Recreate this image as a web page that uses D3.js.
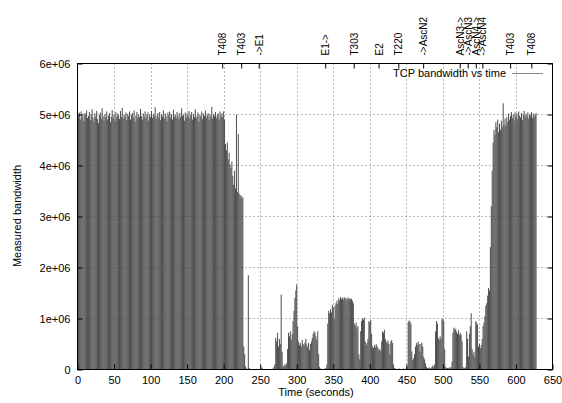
<!DOCTYPE html>
<html>
<head>
<meta charset="utf-8">
<script src="https://cdn.jsdelivr.net/npm/d3@7"></script>
<style>
  body { margin: 0; background: #fff; }
  svg text { font-family: "Liberation Sans", Arial, Helvetica, sans-serif; fill: #000; }
</style>
</head>
<body>
<svg id="chart" width="562" height="403"></svg>
<script>
// Measured TCP bandwidth (units of 1e6), one sample every sampleStep seconds.
// Each run starts at the time given in runStarts.
const sampleStep = 1.25;

const steadyValues = [
  5.55,4.98,5.04,4.90,5.06,4.95,5.01,4.87,5.03,4.99,
  5.08,4.93,4.97,5.05,4.89,5.00,5.10,4.94,4.86,5.02,
  4.96,5.07,4.91,4.83,4.99,5.04,4.92,5.12,4.97,4.88,
  5.01,4.95,5.06,4.90,4.98,5.03,4.85,4.96,5.09,4.93,
  5.00,4.87,5.05,4.94,5.02,4.98,4.91,5.07,4.95,5.13,
  4.92,5.00,4.96,5.04,4.89,5.01,4.97,5.06,4.90,4.99,
  5.03,4.94,5.08,4.86,4.98,5.05,4.93,5.00,4.95,5.11,
  4.97,4.90,5.02,4.96,5.06,4.92,4.99,5.04,4.88,5.00,
  4.95,5.07,4.93,5.01,4.97,5.14,4.91,4.98,5.03,4.94,
  5.05,4.89,5.00,4.96,5.08,4.92,5.02,4.97,4.87,5.04,
  4.99,5.06,4.94,5.01,4.90,5.09,4.96,5.00,4.93,5.05,
  4.98,4.91,5.03,4.95,5.12,4.97,5.00,4.88,5.04,4.94,
  5.02,4.96,5.07,4.92,4.99,5.05,4.90,5.01,4.95,5.10,
  4.93,4.98,5.04,4.86,5.00,4.96,5.06,4.91,5.02,4.97,
  5.08,4.94,4.99,5.03,4.89,5.00,4.95,5.15,4.92,5.01,
  4.97,5.05,4.93,4.99,5.02,4.90,5.06,4.96
];

const fadeValues = [
  5.02,4.95,5.06,4.90,4.42,4.30,4.45,4.12,4.25,4.02,
  3.95,4.08,3.80,3.62,3.90,3.55,5.00,3.48,4.62,3.45,
  3.40,3.42,3.35,3.38
];

const outageValues = [
  0.45,0.30,0.06,0.02,0.01,1.85,0.03,0.01,0,0,
  0.01,0,0,0,0.01,0,0,0,0,0.02,
  0.04,0.01,0,0,0,0,0,0.01,0,0,
  0,0,0.02,0.05
];

const burstValuesA = [
  0.10,0.62,0.55,0.72,0.45,0.60,0.50,1.47,0.35,0.08,
  0.05,0.10,0.08,0.12,0.40,0.72,0.65,0.75,0.58,0.70,
  0.95,1.15,1.40,1.55,1.67,0.85,0.55,0.48,0.52,0.45,
  0.58,0.50,0.47,0.53,0.60,0.49,0.44,0.52,0.38,0.50,
  0.55,0.62,0.70,0.75,0.72,0.65,0.58,0.75,0.30,0.05,
  0.02,0.01,0,0.01,0,0.02,0.03,0.10
];

const burstValuesB = [
  0.90,1.15,1.10,1.18,1.12,1.27,1.22,0.98,1.25,1.30,
  1.35,1.28,1.40,1.36,1.42,1.38,1.41,1.37,1.42,1.39,
  1.40,1.36,1.41,1.38,1.40,1.37,1.39,1.35,1.30,0.90,
  0.86,0.92,0.80,0.85,0.30,0.20,0.75,0.95,1.00,0.98,
  1.02,0.55,0.48,0.52,0.60,0.95,0.92,0.97,0.70,0.45,
  0.42,0.48,0.44,0.50,0.46,0.42,0.38,0.40,0.36,0.55,
  0.75,0.72,0.78,0.60,0.55,0.52,0.57,0.50,0.30,0.55,
  0.58,0.52,0.10
];

const burstValuesC = [
  0.03,0.02,0,0.01,0,0.02,0,0.01,0,0,
  0.02,0.01,0,0.03,0.05,0.93,0.96,0.94,0.90,0.35,
  0.18,0.22,0.30,0.45,0.52,0.48,0.55,0.50,0.35,0.50,
  0.53,0.45,0.25,0.20,0.12,0.05,0.03,0.02,0.04,0.02,
  0.03,0.05,0.08,0.05,0.10,0.75,0.95,0.90,0.62,0.58,
  0.65,0.60,0.98,1.00,0.95,0.40,0.05,0.02,0.03,0.02,
  0.04,0.03,0.05,0.15,0.72,0.82,0.78,0.80,0.74,0.70,
  0.77,0.68,0.72,0.68,0.55,0.05,0.02,0.03,0.05,0.75,
  0.60,0.25,0.70,0.85,1.10,0.40,0.30,0.35,0.25,0.95,
  0.92,0.88,0.45,0.50,0.42,0.48,0.60,0.85,0.92,1.05,
  1.25,1.30,1.45,1.60,1.55
];

const returnValues = [
  2.40,3.20,3.90,4.45,4.70,4.60,4.85,4.75,4.90,4.65,
  4.82,4.70,4.88,4.76,5.22,4.80,4.92,4.78,4.95,4.85,
  5.02,4.90,4.97,5.05,4.93,5.00,4.88,5.04,4.96,5.02,
  4.91,5.06,4.98,4.94,5.03,4.89,5.00,5.07,4.95,5.01,
  4.97,5.04,4.92,5.00,4.98,5.05,4.93,5.02,4.96,5.00,
  5.03
];

const runStarts = [0, 197.5, 227.5, 270, 342.5, 433.75, 565];
const runValues = [steadyValues, fadeValues, outageValues, burstValuesA, burstValuesB, burstValuesC, returnValues];

// Events marked along the top axis (seconds)
const eventTimes  = [198, 224, 248, 339, 378, 412, 439, 473, 523, 534, 545, 554, 592, 621];
const eventLabels = ["T408", "T403", "->E1", "E1->", "T303", "E2", "T220", "->AscN2",
                     "AscN3->", "->AscN3", "AscN4->", "->AscN4", "T403", "T408"];

const xTicks = [0, 50, 100, 150, 200, 250, 300, 350, 400, 450, 500, 550, 600, 650];
const yTicks = [0, 1, 2, 3, 4, 5, 6];
const yTickLabels = ["0", "1e+06", "2e+06", "3e+06", "4e+06", "5e+06", "6e+06"];

const seriesName = "TCP bandwidth vs time";
const xTitle = "Time (seconds)";
const yTitle = "Measured bandwidth";

// ---- layout ----
const plot = { left: 77.5, right: 552.5, top: 63.5, bottom: 369.5 };
const svg = d3.select("#chart");

const x = d3.scaleLinear().domain([0, 650]).range([plot.left, plot.right]);
const y = d3.scaleLinear().domain([0, 6]).range([plot.bottom, plot.top]);

// flatten runs into (time, value) samples
const samples = [];
runValues.forEach((vals, r) => {
  vals.forEach((v, i) => samples.push({ t: runStarts[r] + i * sampleStep, v }));
});

// impulses
svg.append("g")
  .selectAll("line")
  .data(samples.filter(d => d.v > 0))
  .join("line")
  .attr("x1", d => x(d.t)).attr("x2", d => x(d.t))
  .attr("y1", y(0)).attr("y2", d => y(d.v))
  .attr("stroke", "#4d4d4d")
  .attr("stroke-width", 1);

// grid (drawn over the impulses)
const grid = svg.append("g").attr("stroke", "#444").attr("stroke-width", 1)
  .attr("stroke-dasharray", "1,3").attr("opacity", 0.7);
grid.selectAll("line.gx")
  .data(xTicks.filter(d => d > 0 && d < 650))
  .join("line").attr("class", "gx")
  .attr("x1", d => Math.round(x(d)) + 0.5).attr("x2", d => Math.round(x(d)) + 0.5)
  .attr("y1", plot.top).attr("y2", plot.bottom);
grid.selectAll("line.gy")
  .data(yTicks.filter(d => d > 0 && d < 6))
  .join("line").attr("class", "gy")
  .attr("x1", plot.left).attr("x2", plot.right)
  .attr("y1", d => y(d)).attr("y2", d => y(d));

function styleAxis(g) {
  g.select(".domain").remove();
  g.selectAll("text").attr("font-size", 11).attr("font-family", "Liberation Sans, Arial, sans-serif").attr("fill", "#000");
  g.selectAll("line").attr("stroke", "#000");
}

// bottom axis
svg.append("g")
  .attr("transform", `translate(0,${plot.bottom})`)
  .call(d3.axisBottom(x).tickValues(xTicks).tickFormat(d3.format("d"))
        .tickSizeInner(-5).tickSizeOuter(0).tickPadding(7))
  .call(styleAxis);

// left axis
svg.append("g")
  .attr("transform", `translate(${plot.left},0)`)
  .call(d3.axisLeft(y).tickValues(yTicks).tickFormat((d, i) => yTickLabels[i])
        .tickSizeInner(-5).tickSizeOuter(0).tickPadding(7))
  .call(styleAxis);

// right mirror ticks
svg.append("g")
  .attr("transform", `translate(${plot.right},0)`)
  .call(d3.axisRight(y).tickValues(yTicks).tickFormat("")
        .tickSizeInner(-5).tickSizeOuter(0))
  .call(styleAxis);

// top event axis with rotated labels
const topAxis = svg.append("g")
  .attr("transform", `translate(0,${plot.top})`)
  .call(d3.axisTop(x).tickValues(eventTimes).tickFormat((d, i) => eventLabels[i])
        .tickSizeInner(-5).tickSizeOuter(0))
  .call(styleAxis);
topAxis.selectAll("text")
  .attr("transform", "rotate(-90)")
  .attr("text-anchor", "start")
  .attr("x", 8).attr("y", 0).attr("dy", "0.35em")
  .attr("font-size", 10);

// frame
svg.append("rect")
  .attr("x", plot.left).attr("y", plot.top)
  .attr("width", plot.right - plot.left).attr("height", plot.bottom - plot.top)
  .attr("fill", "none").attr("stroke", "#000").attr("stroke-width", 1);

// legend
svg.append("text")
  .attr("x", 506).attr("y", 77)
  .attr("text-anchor", "end").attr("font-size", 11)
  .text(seriesName);
svg.append("line")
  .attr("x1", 512).attr("x2", 543).attr("y1", 73.5).attr("y2", 73.5)
  .attr("stroke", "#888").attr("stroke-width", 1);

// axis titles
svg.append("text")
  .attr("x", 316).attr("y", 396)
  .attr("text-anchor", "middle").attr("font-size", 11)
  .text(xTitle);
svg.append("text")
  .attr("transform", "translate(21,216) rotate(-90)")
  .attr("text-anchor", "middle").attr("font-size", 11)
  .text(yTitle);
</script>
</body>
</html>
